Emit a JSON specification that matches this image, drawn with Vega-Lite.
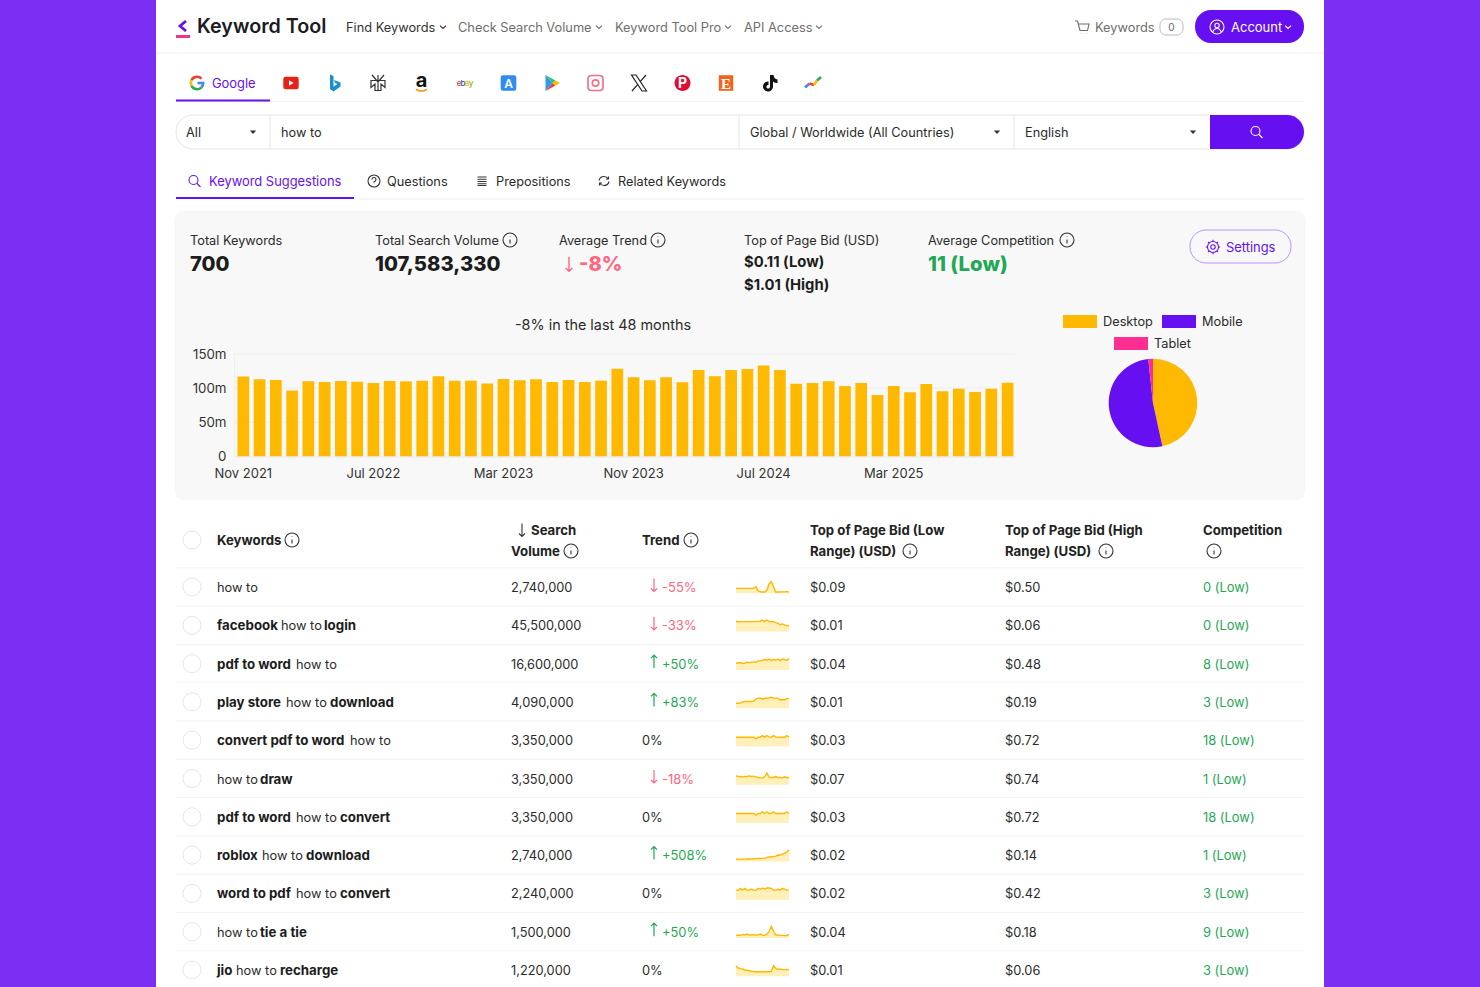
{
"$schema":"https://vega.github.io/schema/vega-lite/v6.json",
"description":"Keyword Tool results page: monthly search volume bars, device pie and keyword table.",
"width":1480,"height":987,"padding":0,"autosize":{"type":"none"},"background":"#7b2ff2",
"config":{"view":{"stroke":null},"text":{"font":"Inter","align":"left","baseline":"middle","dy":1},"axis":{"labelFont":"Inter"}},
"resolve":{"scale":{"x":"independent","y":"independent","color":"independent","shape":"independent"},"axis":{"x":"independent","y":"independent"}},
"datasets":{
"months":[{"month":"Nov 2021","volume":117},{"month":"Dec 2021","volume":113},{"month":"Jan 2022","volume":112},{"month":"Feb 2022","volume":96.5},{"month":"Mar 2022","volume":110},{"month":"Apr 2022","volume":109},{"month":"May 2022","volume":110.5},{"month":"Jun 2022","volume":109.5},{"month":"Jul 2022","volume":107.5},{"month":"Aug 2022","volume":110.5},{"month":"Sep 2022","volume":110},{"month":"Oct 2022","volume":111},{"month":"Nov 2022","volume":117.5},{"month":"Dec 2022","volume":111},{"month":"Jan 2023","volume":111},{"month":"Feb 2023","volume":107},{"month":"Mar 2023","volume":113.5},{"month":"Apr 2023","volume":111.5},{"month":"May 2023","volume":113},{"month":"Jun 2023","volume":109},{"month":"Jul 2023","volume":112},{"month":"Aug 2023","volume":109},{"month":"Sep 2023","volume":111},{"month":"Oct 2023","volume":128.5},{"month":"Nov 2023","volume":116},{"month":"Dec 2023","volume":111.5},{"month":"Jan 2024","volume":116},{"month":"Feb 2024","volume":108.5},{"month":"Mar 2024","volume":126.5},{"month":"Apr 2024","volume":117.5},{"month":"May 2024","volume":126.5},{"month":"Jun 2024","volume":128},{"month":"Jul 2024","volume":133},{"month":"Aug 2024","volume":126.5},{"month":"Sep 2024","volume":106.5},{"month":"Oct 2024","volume":107.5},{"month":"Nov 2024","volume":110},{"month":"Dec 2024","volume":103},{"month":"Jan 2025","volume":107.5},{"month":"Feb 2025","volume":90},{"month":"Mar 2025","volume":103},{"month":"Apr 2025","volume":94},{"month":"May 2025","volume":106},{"month":"Jun 2025","volume":95.5},{"month":"Jul 2025","volume":99},{"month":"Aug 2025","volume":94.5},{"month":"Sep 2025","volume":99},{"month":"Oct 2025","volume":108}],
"s1":[{"m":0,"v":37},{"m":2,"v":37},{"m":4,"v":37},{"m":6,"v":37},{"m":8,"v":37},{"m":10,"v":37},{"m":12,"v":37},{"m":14,"v":37},{"m":16,"v":38},{"m":18,"v":50},{"m":20,"v":18},{"m":22,"v":12},{"m":24,"v":10},{"m":26,"v":10},{"m":28,"v":25},{"m":30,"v":70},{"m":32,"v":87},{"m":34,"v":50},{"m":36,"v":10},{"m":38,"v":10},{"m":40,"v":10},{"m":42,"v":11},{"m":44,"v":11},{"m":46,"v":12},{"m":48,"v":11}],
"s2":[{"m":0,"v":78},{"m":2,"v":74},{"m":4,"v":75},{"m":6,"v":75},{"m":8,"v":75},{"m":10,"v":75},{"m":12,"v":75},{"m":14,"v":75},{"m":16,"v":75},{"m":18,"v":75},{"m":20,"v":75},{"m":22,"v":78},{"m":24,"v":86},{"m":26,"v":75},{"m":28,"v":87},{"m":30,"v":76},{"m":32,"v":75},{"m":34,"v":75},{"m":36,"v":68},{"m":38,"v":62},{"m":40,"v":52},{"m":42,"v":58},{"m":44,"v":50},{"m":46,"v":46},{"m":48,"v":43}],
"s3":[{"m":0,"v":52},{"m":2,"v":50},{"m":4,"v":55},{"m":6,"v":48},{"m":8,"v":50},{"m":10,"v":58},{"m":12,"v":55},{"m":14,"v":57},{"m":16,"v":60},{"m":18,"v":58},{"m":20,"v":68},{"m":22,"v":68},{"m":24,"v":72},{"m":26,"v":80},{"m":28,"v":72},{"m":30,"v":82},{"m":32,"v":70},{"m":34,"v":80},{"m":36,"v":72},{"m":38,"v":82},{"m":40,"v":70},{"m":42,"v":82},{"m":44,"v":78},{"m":46,"v":72},{"m":48,"v":85}],
"s4":[{"m":0,"v":37},{"m":2,"v":37},{"m":4,"v":38},{"m":6,"v":48},{"m":8,"v":50},{"m":10,"v":50},{"m":12,"v":50},{"m":14,"v":50},{"m":16,"v":53},{"m":18,"v":68},{"m":20,"v":75},{"m":22,"v":75},{"m":24,"v":68},{"m":26,"v":75},{"m":28,"v":75},{"m":30,"v":78},{"m":32,"v":82},{"m":34,"v":76},{"m":36,"v":76},{"m":38,"v":76},{"m":40,"v":62},{"m":42,"v":65},{"m":44,"v":64},{"m":46,"v":72},{"m":48,"v":72}],
"s5":[{"m":0,"v":70},{"m":2,"v":70},{"m":4,"v":70},{"m":6,"v":70},{"m":8,"v":70},{"m":10,"v":70},{"m":12,"v":70},{"m":14,"v":70},{"m":16,"v":70},{"m":18,"v":58},{"m":20,"v":70},{"m":22,"v":70},{"m":24,"v":82},{"m":26,"v":70},{"m":28,"v":82},{"m":30,"v":72},{"m":32,"v":70},{"m":34,"v":82},{"m":36,"v":72},{"m":38,"v":70},{"m":40,"v":70},{"m":42,"v":70},{"m":44,"v":70},{"m":46,"v":82},{"m":48,"v":70}],
"s6":[{"m":0,"v":68},{"m":2,"v":62},{"m":4,"v":62},{"m":6,"v":60},{"m":8,"v":62},{"m":10,"v":62},{"m":12,"v":68},{"m":14,"v":62},{"m":16,"v":65},{"m":18,"v":60},{"m":20,"v":55},{"m":22,"v":52},{"m":24,"v":52},{"m":26,"v":60},{"m":28,"v":88},{"m":30,"v":58},{"m":32,"v":55},{"m":34,"v":55},{"m":36,"v":62},{"m":38,"v":55},{"m":40,"v":55},{"m":42,"v":52},{"m":44,"v":60},{"m":46,"v":55},{"m":48,"v":55}],
"s7":[{"m":0,"v":72},{"m":2,"v":72},{"m":4,"v":72},{"m":6,"v":72},{"m":8,"v":72},{"m":10,"v":72},{"m":12,"v":72},{"m":14,"v":72},{"m":16,"v":72},{"m":18,"v":60},{"m":20,"v":72},{"m":22,"v":72},{"m":24,"v":85},{"m":26,"v":72},{"m":28,"v":85},{"m":30,"v":72},{"m":32,"v":72},{"m":34,"v":85},{"m":36,"v":72},{"m":38,"v":72},{"m":40,"v":72},{"m":42,"v":72},{"m":44,"v":72},{"m":46,"v":85},{"m":48,"v":72}],
"s8":[{"m":0,"v":18},{"m":2,"v":16},{"m":4,"v":15},{"m":6,"v":16},{"m":8,"v":17},{"m":10,"v":18},{"m":12,"v":18},{"m":14,"v":19},{"m":16,"v":20},{"m":18,"v":21},{"m":20,"v":22},{"m":22,"v":22},{"m":24,"v":23},{"m":26,"v":25},{"m":28,"v":30},{"m":30,"v":33},{"m":32,"v":36},{"m":34,"v":34},{"m":36,"v":40},{"m":38,"v":48},{"m":40,"v":46},{"m":42,"v":56},{"m":44,"v":60},{"m":46,"v":70},{"m":48,"v":85}],
"s9":[{"m":0,"v":72},{"m":2,"v":70},{"m":4,"v":85},{"m":6,"v":72},{"m":8,"v":85},{"m":10,"v":72},{"m":12,"v":72},{"m":14,"v":80},{"m":16,"v":72},{"m":18,"v":70},{"m":20,"v":85},{"m":22,"v":78},{"m":24,"v":88},{"m":26,"v":80},{"m":28,"v":88},{"m":30,"v":88},{"m":32,"v":85},{"m":34,"v":72},{"m":36,"v":72},{"m":38,"v":78},{"m":40,"v":72},{"m":42,"v":85},{"m":44,"v":80},{"m":46,"v":72},{"m":48,"v":72}],
"s10":[{"m":0,"v":18},{"m":2,"v":22},{"m":4,"v":20},{"m":6,"v":25},{"m":8,"v":24},{"m":10,"v":30},{"m":12,"v":22},{"m":14,"v":24},{"m":16,"v":24},{"m":18,"v":22},{"m":20,"v":24},{"m":22,"v":30},{"m":24,"v":20},{"m":26,"v":20},{"m":28,"v":30},{"m":30,"v":48},{"m":32,"v":88},{"m":34,"v":50},{"m":36,"v":22},{"m":38,"v":22},{"m":40,"v":20},{"m":42,"v":20},{"m":44,"v":18},{"m":46,"v":18},{"m":48,"v":28}],
"s11":[{"m":0,"v":78},{"m":2,"v":62},{"m":4,"v":58},{"m":6,"v":55},{"m":8,"v":46},{"m":10,"v":46},{"m":12,"v":42},{"m":14,"v":38},{"m":16,"v":36},{"m":18,"v":34},{"m":20,"v":34},{"m":22,"v":34},{"m":24,"v":34},{"m":26,"v":34},{"m":28,"v":34},{"m":30,"v":34},{"m":32,"v":36},{"m":34,"v":80},{"m":36,"v":60},{"m":38,"v":52},{"m":40,"v":55},{"m":42,"v":50},{"m":44,"v":50},{"m":46,"v":52},{"m":48,"v":50}]
},
"layer":[
{"encoding":{
"x":{"field":"c","type":"quantitative","axis":null,"scale":{"nice":false,"zero":false,"domain":[0,1,2,3,4,5,6,7,8,9,10,11,12,13,14,15,16,17,18,19,20,21,22,23,24,25,26,27,28,29,30,31,32,33,34,35,36,37,38,39,40,41,42,43,44,45,46,47,48,49,50,51,52,53,54,55,56,57,58,59,60,61,62,63,64,65,66,67,68,69,70,71,72,73,74,75,76,77,78,79,80,81,82,83,84,85,86,87],"range":[156,1324,176,1304,197,346,458,615,744,1095,1160,1183,1195,1231,212,186,270,281,739,750,1014,1025,1210,209,387,496,618,354,190,375,559,928,1190,1291,1226,569,579,603,1103,1202,1154,1063,1097,1162,1196,1114,1148,510,658,1067,217,511,642,810,1005,1203,531,522,292,571,691,910,1106,1214,192,443,599,728,819,1082,1171.5,1217,1288,253,997,1193,1257,195,374,482,604,1213,183,190,174,1306,175,1305]}},
"y":{"field":"r","type":"quantitative","axis":null,"scale":{"nice":false,"zero":false,"domain":[0,1,2,3,4,5,6,7,8,9,10,11,12,13,14,15,16,17,18,19,20,21,22,23,24,25,26,27,28,29,30,31,32,33,34,35,36,37,38,39,40,41],"range":[0,987,27,10,43,53,83,99.5,101.5,115,149,132,181,197,199,212,498,240,264,262,285,230,263,247,325,315,328,321,337,350,343,19,35,38,530,540,551,26,210,501,211,499.5]}}
},
"layer":[
{"data":{"values":[{"part":"page","c":0,"c2":1,"r":0,"r2":1}]},"mark":{"type":"rect","color":"#ffffff"},"encoding":{"x2":{"field":"c2"},"y2":{"field":"r2"}}},
{"data":{"values":[{"part":"card shadow","c":84,"c2":85,"r":38,"r2":39}]},"mark":{"type":"rect","color":"#000000","opacity":0.012,"cornerRadius":10},"encoding":{"x2":{"field":"c2"},"y2":{"field":"r2"}}},
{"data":{"values":[{"part":"card shadow","c":86,"c2":87,"r":40,"r2":41}]},"mark":{"type":"rect","color":"#000000","opacity":0.025,"cornerRadius":9},"encoding":{"x2":{"field":"c2"},"y2":{"field":"r2"}}},
{"data":{"values":[{"part":"card","c":2,"c2":3,"r":15,"r2":16}]},"mark":{"type":"rect","color":"#f8f8f8","cornerRadius":8},"encoding":{"x2":{"field":"c2"},"y2":{"field":"r2"}}},
{"data":{"values":[{"part":"search bar","c":2,"c2":3,"r":9,"r2":10}]},"mark":{"type":"rect","fill":"#ffffff","stroke":"#e4e4e4","cornerRadius":17},"encoding":{"x2":{"field":"c2"},"y2":{"field":"r2"}}},
{"data":{"values":[{"part":"search button","c":22,"c2":3,"r":9,"r2":10}]},"mark":{"type":"rect","color":"#6610f2","cornerRadiusTopRight":17,"cornerRadiusBottomRight":17},"encoding":{"x2":{"field":"c2"},"y2":{"field":"r2"}}},
{"data":{"values":[{"part":"account","c":12,"c2":3,"r":3,"r2":4}]},"mark":{"type":"rect","color":"#6610f2","cornerRadius":16},"encoding":{"x2":{"field":"c2"},"y2":{"field":"r2"}}},
{"data":{"values":[{"part":"settings","c":32,"c2":33,"r":21,"r2":22}]},"mark":{"type":"rect","fill":"#f8f8f8","stroke":"#b794ff","cornerRadius":16},"encoding":{"x2":{"field":"c2"},"y2":{"field":"r2"}}},
{"data":{"values":[{"part":"basket count","c":10,"c2":11,"r":31,"r2":32}]},"mark":{"type":"rect","fill":"#ffffff","stroke":"#bbbbbb","cornerRadius":6},"encoding":{"x2":{"field":"c2"},"y2":{"field":"r2"}}},
{"data":{"values":[{"part":"header line","c":0,"c2":1,"r":5},{"part":"source line","c":2,"c2":3,"r":8},{"part":"tab line","c":2,"c2":3,"r":14}]},"mark":{"type":"rule","color":"#f1f1f1"},"encoding":{"x2":{"field":"c2"}}},
{"data":{"values":[{"part":"divider","c":16,"r":9,"r2":10},{"part":"divider","c":18,"r":9,"r2":10},{"part":"divider","c":20,"r":9,"r2":10}]},"mark":{"type":"rule","color":"#e4e4e4"},"encoding":{"y2":{"field":"r2"}}},
{"data":{"values":[{"part":"google tab","c":2,"c2":16,"r":7,"r2":8},{"part":"suggestions tab","c":2,"c2":27,"r":13,"r2":14}]},"mark":{"type":"rect","color":"#6610f2"},"encoding":{"x2":{"field":"c2"},"y2":{"field":"r2"}}},
{"data":{"values":[{"part":"logo bar","c":2,"c2":83,"r":32,"r2":33}]},"mark":{"type":"rect","color":"#f0308a"},"encoding":{"x2":{"field":"c2"},"y2":{"field":"r2"}}},
{"data":{"values":[{"device":"Desktop","c":41,"c2":42,"r":25,"r2":26},{"device":"Mobile","c":43,"c2":44,"r":25,"r2":26},{"device":"Tablet","c":45,"c2":46,"r":28,"r2":29}]},"mark":{"type":"rect"},"encoding":{"x2":{"field":"c2"},"y2":{"field":"r2"},"color":{"field":"device","type":"nominal","legend":null,"scale":{"domain":["Desktop","Mobile","Tablet"],"range":["#ffb900","#6610f2","#ff2f92"]}}}},
{"data":{"values":[{"part":"select all","c":64,"r":35}]},"mark":{"type":"point","shape":"circle","size":324,"stroke":"#e6e6e6","strokeWidth":1,"opacity":1}},
{"encoding":{"text":{"field":"t"}},"layer":[
{"data":{"values":[{"t":"Keyword Tool","c":4,"r":37}]},"mark":{"type":"text","fontSize":19.7,"fontWeight":600,"color":"#1c1c24"}},
{"data":{"values":[{"t":"Find Keywords","c":5,"r":2}]},"mark":{"type":"text","fontSize":12.8,"color":"#333333"}},
{"data":{"values":[{"t":"Check Search Volume","c":6,"r":2},{"t":"Keyword Tool Pro","c":7,"r":2},{"t":"API Access","c":8,"r":2},{"t":"Keywords","c":9,"r":2}]},"mark":{"type":"text","fontSize":12.8,"color":"#6e6e6e"}},
{"data":{"values":[{"t":"0","c":70,"r":2}]},"mark":{"type":"text","fontSize":10,"color":"#666666","align":"center"}},
{"data":{"values":[{"t":"Account","c":13,"r":2}]},"mark":{"type":"text","fontSize":13,"color":"#ffffff"}},
{"data":{"values":[{"t":"Google","c":14,"r":6},{"t":"Keyword Suggestions","c":23,"r":12},{"t":"Settings","c":34,"r":23}]},"mark":{"type":"text","fontSize":12.9,"color":"#6610f2"}},
{"data":{"values":[{"t":"All","c":15,"r":11},{"t":"how to","c":17,"r":11},{"t":"Global / Worldwide (All Countries)","c":19,"r":11},{"t":"English","c":21,"r":11},{"t":"Questions","c":24,"r":12},{"t":"Prepositions","c":25,"r":12},{"t":"Related Keywords","c":26,"r":12},{"t":"Total Keywords","c":28,"r":17},{"t":"Total Search Volume","c":29,"r":17},{"t":"Average Trend","c":30,"r":17},{"t":"Top of Page Bid (USD)","c":8,"r":17},{"t":"Average Competition","c":31,"r":17},{"t":"Desktop","c":38,"r":27},{"t":"Mobile","c":39,"r":27},{"t":"Tablet","c":40,"r":30}]},"mark":{"type":"text","fontSize":12.75,"color":"#2b2b2b"}},
{"data":{"values":[{"t":"700","c":28,"r":18},{"t":"107,583,330","c":29,"r":18}]},"mark":{"type":"text","fontSize":20.2,"fontWeight":800,"color":"#1c1c1c"}},
{"data":{"values":[{"t":"-8%","c":36,"r":18}]},"mark":{"type":"text","fontSize":20,"fontWeight":800,"color":"#ff6680"}},
{"data":{"values":[{"t":"11 (Low)","c":31,"r":18}]},"mark":{"type":"text","fontSize":20.3,"fontWeight":800,"color":"#1fa855"}},
{"data":{"values":[{"t":"$0.11 (Low)","c":8,"r":19},{"t":"$1.01 (High)","c":8,"r":20}]},"mark":{"type":"text","fontSize":14.8,"fontWeight":700,"color":"#1c1c1c"}},
{"data":{"values":[{"t":"-8% in the last 48 months","c":37,"r":24}]},"mark":{"type":"text","fontSize":14.4,"color":"#2b2b2b","align":"center"}},
{"data":{"values":[{"t":"Keywords","c":50,"r":35},{"t":"Search","c":56,"r":34},{"t":"Volume","c":51,"r":36},{"t":"Trend","c":52,"r":35},{"t":"Top of Page Bid (Low","c":53,"r":34},{"t":"Range) (USD)","c":53,"r":36},{"t":"Top of Page Bid (High","c":54,"r":34},{"t":"Range) (USD)","c":54,"r":36},{"t":"Competition","c":55,"r":34}]},"mark":{"type":"text","fontSize":13.2,"fontWeight":700,"color":"#222222"}}
]},
{"encoding":{"shape":{"field":"glyph","type":"nominal","legend":null,"scale":{"domain":["info","chevron","cart","user","search","question","list","refresh","gear","down","caret","logo"],"range":["M-.7,0A.7,.7 0 1 1 .7,0A.7,.7 0 1 1 -.7,0ZM0,-.05V.35M0,-.36V-.3","M-.3,-.13L0,.15L.3,-.13","M-.7,-.6H-.45L-.2,.35H.55L.7,-.3H-.35M-.1,.6V.62M.45,.6V.62","M-.7,0A.7,.7 0 1 1 .7,0A.7,.7 0 1 1 -.7,0ZM-.22,-.15A.22,.22 0 1 1 .22,-.15A.22,.22 0 1 1 -.22,-.15ZM-.42,.5Q-.3,.15 0,.15Q.3,.15 .42,.5","M-.6,-.1A.45,.45 0 1 1 .3,-.1A.45,.45 0 1 1 -.6,-.1ZM.2,.25L.55,.6","M-.6,0A.6,.6 0 1 1 .6,0A.6,.6 0 1 1 -.6,0ZM-.2,-.15Q-.2,-.35 0,-.35Q.2,-.35 .2,-.15Q.2,0 0,.08V.15M0,.27V.3","M-.45,-.4H.45M-.45,-.18H.45M-.45,.05H.45M-.45,.27H.45M-.45,.45H.45","M-.5,-.05Q-.4,-.45 0,-.45Q.3,-.45 .45,-.2M.5,.05Q.4,.45 0,.45Q-.3,.45 -.45,.2M.45,-.45V-.2H.2M-.45,.45V.2H-.2","M-.22,0A.22,.22 0 1 1 .22,0A.22,.22 0 1 1 -.22,0ZM-.55,0A.55,.55 0 1 1 .55,0A.55,.55 0 1 1 -.55,0ZM0,-.72V-.55M0,.55V.72M-.72,0H-.55M.55,0H.72M-.5,-.5L-.38,-.38M.5,.5L.38,.38M-.5,.5L-.38,.38M.5,-.5L.38,-.38","M0,-.65V.65M-.3,.35L0,.65L.3,.35","M-.32,-.15H.32L0,.2Z","M.3,-.5L-.3,0L.3,.5"]}}},"layer":[
{"data":{"values":[{"glyph":"info","c":47,"r":17},{"glyph":"info","c":48,"r":17},{"glyph":"info","c":49,"r":17},{"glyph":"info","c":58,"r":35},{"glyph":"info","c":59,"r":36},{"glyph":"info","c":60,"r":35},{"glyph":"info","c":61,"r":36},{"glyph":"info","c":62,"r":36},{"glyph":"info","c":63,"r":36},{"glyph":"chevron","c":65,"r":2},{"glyph":"question","c":78,"r":12},{"glyph":"list","c":79,"r":12},{"glyph":"refresh","c":80,"r":12},{"glyph":"down","c":57,"r":34}]},"mark":{"type":"point","filled":false,"size":400,"color":"#333333","strokeWidth":1.1,"opacity":1}},
{"data":{"values":[{"glyph":"chevron","c":66,"r":2},{"glyph":"chevron","c":67,"r":2},{"glyph":"chevron","c":68,"r":2},{"glyph":"cart","c":69,"r":2}]},"mark":{"type":"point","filled":false,"size":400,"color":"#6e6e6e","strokeWidth":1.1,"opacity":1}},
{"data":{"values":[{"glyph":"user","c":71,"r":2},{"glyph":"chevron","c":72,"r":2},{"glyph":"search","c":76,"r":11}]},"mark":{"type":"point","filled":false,"size":400,"color":"#ffffff","strokeWidth":1.1,"opacity":1}},
{"data":{"values":[{"glyph":"search","c":77,"r":12},{"glyph":"gear","c":81,"r":23}]},"mark":{"type":"point","filled":false,"size":400,"color":"#6610f2","strokeWidth":1.1,"opacity":1}},
{"data":{"values":[{"glyph":"logo","c":82,"r":37}]},"mark":{"type":"point","filled":false,"size":400,"color":"#6610f2","strokeWidth":2.8,"opacity":1}},
{"data":{"values":[{"glyph":"down","c":35,"r":18}]},"mark":{"type":"point","filled":false,"size":500,"color":"#ff6680","strokeWidth":1.4,"opacity":1}},
{"data":{"values":[{"glyph":"caret","c":73,"r":11},{"glyph":"caret","c":74,"r":11},{"glyph":"caret","c":75,"r":11}]},"mark":{"type":"point","filled":true,"size":400,"color":"#333333","opacity":1}}
]}
]},
{"encoding":{
"x":{"field":"n","type":"quantitative","axis":null,"scale":{"nice":false,"zero":false,"domain":[0,1,13],"range":[197,291,813]}},
"y":{"datum":0,"type":"quantitative","axis":null,"scale":{"nice":false,"domain":[-1,1],"range":[93,73]}}
},
"layer":[
{"encoding":{
"shape":{"field":"part","type":"nominal","legend":null,"scale":{"domain":["g red","g yellow","g green","g blue","youtube","youtube play","bing","spider","smile","store","play blue","play green","play red","play yellow","insta","x","pin","etsy","tiktok","up blue","up red","up yellow","up green"],"range":["M.45,-.43A.62,.62 0 0 0 -.55,-.28","M-.55,-.28A.62,.62 0 0 0 -.55,.28","M-.55,.28A.62,.62 0 0 0 .45,.43","M.45,.43A.62,.62 0 0 0 .62,0H.05","M-.55,-.62H.55Q.77,-.62 .77,-.4V.4Q.77,.62 .55,.62H-.55Q-.77,.62 -.77,.4V-.4Q-.77,-.62 -.55,-.62Z","M-.2,-.27L.27,0L-.2,.27Z","M-.45,-.85L-.1,-.7V.35L.3,.1L.05,0L-.05,-.3L.6,-.05V.35L-.1,.85L-.45,.6Z","M-.6,-.8L0,-.1L.6,-.8M0,-.8V.8M-.7,-.25H.7V.45L.3,.1V.75H-.3V.1L-.7,.45Z","M-.55,.62Q0,1 .55,.62","M-.55,-.78H.55Q.78,-.78 .78,-.55V.55Q.78,.78 .55,.78H-.55Q-.78,.78 -.78,.55V-.55Q-.78,-.78 -.55,-.78Z","M-.65,-.8L.05,0L-.65,.8Z","M-.65,-.8L.35,-.25L.05,0Z","M-.65,.8L.35,.25L.05,0Z","M.35,-.25L.8,0L.35,.25L.05,0Z","M-.4,-.75H.4Q.75,-.75 .75,-.4V.4Q.75,.75 .4,.75H-.4Q-.75,.75 -.75,.4V-.4Q-.75,-.75 -.4,-.75ZM-.32,0A.32,.32 0 1 1 .32,0A.32,.32 0 1 1 -.32,0ZM.42,-.45V-.42","M-.75,-.8H-.3L.75,.8H.3ZM.7,-.8L.1,-.12M-.1,.12L-.7,.8","M-.8,0A.8,.8 0 1 1 .8,0A.8,.8 0 1 1 -.8,0Z","M-.72,-.78H.72V.78H-.72Z","M.05,-.8H.4Q.45,-.4 .8,-.35V0Q.5,0 .35,-.15V.35A.5,.5 0 1 1 -.1,-.15V.2A.18,.18 0 1 0 .05,.35Z","M-.8,.45L-.35,.05","M-.35,.05L.1,.2","M.1,.2L.4,-.25","M.4,-.25L.8,-.6"]}},
"color":{"field":"part","type":"nominal","legend":null,"scale":{"domain":["g red","g yellow","g green","g blue","youtube","youtube play","bing","spider","smile","store","play blue","play green","play red","play yellow","insta","x","pin","etsy","tiktok","up blue","up red","up yellow","up green"],"range":["#ea4335","#fbbc05","#34a853","#4285f4","#e62117","#ffffff","#1c8fc4","#333333","#f79c21","#2f8cf0","#2d9cf0","#34c06f","#ea4335","#fbbc05","#f2708a","#222222","#dd1032","#f1641e","#111111","#4285f4","#ea4335","#fbbc05","#34a853"]}}
},"layer":[
{"data":{"values":[{"icon":"YouTube","part":"youtube","n":1},{"icon":"YouTube","part":"youtube play","n":1},{"icon":"Bing","part":"bing","n":2},{"icon":"App Store","part":"store","n":6},{"icon":"Play","part":"play blue","n":7},{"icon":"Play","part":"play green","n":7},{"icon":"Play","part":"play red","n":7},{"icon":"Play","part":"play yellow","n":7},{"icon":"Pinterest","part":"pin","n":10},{"icon":"Etsy","part":"etsy","n":11},{"icon":"TikTok","part":"tiktok","n":12}]},"mark":{"type":"point","filled":true,"size":400,"opacity":1}},
{"data":{"values":[{"icon":"Google","part":"g red","n":0},{"icon":"Google","part":"g yellow","n":0},{"icon":"Google","part":"g green","n":0},{"icon":"Google","part":"g blue","n":0}]},"mark":{"type":"point","filled":false,"size":400,"strokeWidth":2.6,"opacity":1}},
{"data":{"values":[{"icon":"Perplexity","part":"spider","n":3},{"icon":"X","part":"x","n":9}]},"mark":{"type":"point","filled":false,"size":400,"strokeWidth":1.2,"opacity":1}},
{"data":{"values":[{"icon":"Amazon","part":"smile","n":4},{"icon":"Instagram","part":"insta","n":8}]},"mark":{"type":"point","filled":false,"size":400,"strokeWidth":1.7,"opacity":1}},
{"data":{"values":[{"icon":"Trends","part":"up blue","n":13},{"icon":"Trends","part":"up red","n":13},{"icon":"Trends","part":"up yellow","n":13},{"icon":"Trends","part":"up green","n":13}]},"mark":{"type":"point","filled":false,"size":400,"strokeWidth":2.6,"opacity":1}}
]},
{"encoding":{"text":{"field":"t"}},"layer":[
{"data":{"values":[{"t":"a","n":4}]},"mark":{"type":"text","fontSize":20,"fontWeight":700,"color":"#111111","align":"center","dy":-2}},
{"data":{"values":[{"t":"A","n":6}]},"mark":{"type":"text","fontSize":12,"fontWeight":600,"color":"#ffffff","align":"center"}},
{"data":{"values":[{"t":"P","n":10}]},"mark":{"type":"text","fontSize":14,"fontWeight":700,"color":"#ffffff","align":"center"}},
{"data":{"values":[{"t":"E","n":11}]},"mark":{"type":"text","fontSize":15,"font":"Liberation Serif","fontWeight":700,"color":"#ffffff","align":"center"}}
]}
]},
{"data":{"values":[{"letter":"e"},{"letter":"b"},{"letter":"a"},{"letter":"y"}]},"mark":{"type":"text","fontSize":8,"fontWeight":500,"align":"center"},
"encoding":{
"x":{"field":"letter","type":"nominal","axis":null,"scale":{"type":"point","padding":0,"domain":["e","b","a","y"],"range":[459,471]}},
"y":{"datum":0,"type":"quantitative","axis":null,"scale":{"domain":[-1,1],"range":[93,73]}},
"text":{"field":"letter"},
"color":{"field":"letter","type":"nominal","legend":null,"scale":{"domain":["e","b","a","y"],"range":["#e53238","#0064d2","#f5af02","#86b817"]}}
}},
{"data":{"values":[{"level":50,"from":0,"to":1},{"level":100,"from":0,"to":1},{"level":150,"from":0,"to":1}]},"mark":{"type":"rule","color":"#eeeeee"},
"encoding":{
"x":{"field":"from","type":"quantitative","axis":null,"scale":{"domain":[0,1],"range":[234,1015]}},
"x2":{"field":"to"},
"y":{"field":"level","type":"quantitative","axis":null,"scale":{"domain":[0,150],"range":[456.5,354]}}
}},
{"data":{"name":"months"},"mark":{"type":"bar","color":"#ffb900"},
"encoding":{
"x":{"field":"month","type":"nominal","sort":null,"title":null,"scale":{"type":"band","range":[235.2,1015.7],"paddingInner":0.28,"paddingOuter":0.14},
"axis":{"values":["Nov 2021","Jul 2022","Mar 2023","Nov 2023","Jul 2024","Mar 2025"],"orient":"bottom","offset":-530.5,"labelAngle":0,"ticks":false,"grid":false,"domainColor":"#e6e6e6","labelPadding":11,"labelFontSize":13,"labelColor":"#333333","zindex":1}},
"y":{"field":"volume","type":"quantitative","title":null,"scale":{"domain":[0,150],"range":[456.5,354]},
"axis":{"values":[0,50,100,150],"labelExpr":"datum.value == 0 ? '0' : datum.value + 'm'","orient":"left","offset":-234,"ticks":false,"grid":false,"domainColor":"#eeeeee","labelPadding":8,"labelFontSize":13.3,"labelColor":"#333333","zindex":1}}
}},
{"data":{"values":[{"device":"Desktop","share":46.6,"ord":1},{"device":"Mobile","share":51.7,"ord":2},{"device":"Tablet","share":1.7,"ord":3}]},"mark":{"type":"arc","radius":44.3},
"encoding":{
"x":{"datum":0.5,"type":"quantitative","axis":null,"scale":{"domain":[0,1],"range":[1109,1197]}},
"y":{"datum":0.5,"type":"quantitative","axis":null,"scale":{"domain":[0,1],"range":[447,359]}},
"theta":{"field":"share","type":"quantitative"},
"order":{"field":"ord"},
"color":{"field":"device","type":"nominal","legend":null,"scale":{"domain":["Desktop","Mobile","Tablet"],"range":["#ffb900","#6610f2","#ff2f92"]}}
}},
{"encoding":{
"x":{"field":"col","type":"quantitative","axis":null,"scale":{"nice":false,"zero":false,"domain":[0,1,2,3,4,5,6,7,8,9,10,11,12,13,14,15,16,17,18,19,20,21,22],"range":[192,217,511,642,654,662,810,1005,1203,176,1304,236,260,262,280,281,286,296,306,324,330,340,350]}},
"y":{"field":"row","type":"quantitative","axis":null,"scale":{"nice":false,"zero":false,"domain":[1,11],"range":[587,970]}}
},
"layer":[
{"data":{"values":[{"row":0.5,"col":9,"col2":10},{"row":1.5,"col":9,"col2":10},{"row":2.5,"col":9,"col2":10},{"row":3.5,"col":9,"col2":10},{"row":4.5,"col":9,"col2":10},{"row":5.5,"col":9,"col2":10},{"row":6.5,"col":9,"col2":10},{"row":7.5,"col":9,"col2":10},{"row":8.5,"col":9,"col2":10},{"row":9.5,"col":9,"col2":10},{"row":10.5,"col":9,"col2":10}]},"mark":{"type":"rule","color":"#f3f3f3"},"encoding":{"x2":{"field":"col2"}}},
{"data":{"values":[{"row":1,"col":0},{"row":2,"col":0},{"row":3,"col":0},{"row":4,"col":0},{"row":5,"col":0},{"row":6,"col":0},{"row":7,"col":0},{"row":8,"col":0},{"row":9,"col":0},{"row":10,"col":0},{"row":11,"col":0}]},"mark":{"type":"point","shape":"circle","size":324,"stroke":"#e6e6e6","strokeWidth":1,"opacity":1}},
{"data":{"values":[{"row":1,"col":4},{"row":2,"col":4},{"row":6,"col":4}]},"mark":{"type":"point","filled":false,"shape":"M0,-.85V.45M-.3,.15L0,.45L.3,.15","size":400,"color":"#ff6680","strokeWidth":1.2,"opacity":1}},
{"data":{"values":[{"row":3,"col":4},{"row":4,"col":4},{"row":8,"col":4},{"row":10,"col":4}]},"mark":{"type":"point","filled":false,"shape":"M0,.45V-.85M-.3,-.55L0,-.85L.3,-.55","size":400,"color":"#1fa855","strokeWidth":1.2,"opacity":1}},
{"encoding":{"text":{"field":"text"}},"layer":[
{"data":{"values":[{"row":1,"col":1,"text":"how to"},{"row":2,"col":15,"text":"how to"},{"row":3,"col":17,"text":"how to"},{"row":4,"col":16,"text":"how to"},{"row":5,"col":22,"text":"how to"},{"row":6,"col":1,"text":"how to"},{"row":7,"col":17,"text":"how to"},{"row":8,"col":13,"text":"how to"},{"row":9,"col":17,"text":"how to"},{"row":10,"col":1,"text":"how to"},{"row":11,"col":11,"text":"how to"},
{"row":1,"col":2,"text":"2,740,000"},{"row":2,"col":2,"text":"45,500,000"},{"row":3,"col":2,"text":"16,600,000"},{"row":4,"col":2,"text":"4,090,000"},{"row":5,"col":2,"text":"3,350,000"},{"row":6,"col":2,"text":"3,350,000"},{"row":7,"col":2,"text":"3,350,000"},{"row":8,"col":2,"text":"2,740,000"},{"row":9,"col":2,"text":"2,240,000"},{"row":10,"col":2,"text":"1,500,000"},{"row":11,"col":2,"text":"1,220,000"},
{"row":5,"col":3,"text":"0%"},{"row":7,"col":3,"text":"0%"},{"row":9,"col":3,"text":"0%"},{"row":11,"col":3,"text":"0%"},
{"row":1,"col":6,"text":"$0.09"},{"row":2,"col":6,"text":"$0.01"},{"row":3,"col":6,"text":"$0.04"},{"row":4,"col":6,"text":"$0.01"},{"row":5,"col":6,"text":"$0.03"},{"row":6,"col":6,"text":"$0.07"},{"row":7,"col":6,"text":"$0.03"},{"row":8,"col":6,"text":"$0.02"},{"row":9,"col":6,"text":"$0.02"},{"row":10,"col":6,"text":"$0.04"},{"row":11,"col":6,"text":"$0.01"},
{"row":1,"col":7,"text":"$0.50"},{"row":2,"col":7,"text":"$0.06"},{"row":3,"col":7,"text":"$0.48"},{"row":4,"col":7,"text":"$0.19"},{"row":5,"col":7,"text":"$0.72"},{"row":6,"col":7,"text":"$0.74"},{"row":7,"col":7,"text":"$0.72"},{"row":8,"col":7,"text":"$0.14"},{"row":9,"col":7,"text":"$0.42"},{"row":10,"col":7,"text":"$0.18"},{"row":11,"col":7,"text":"$0.06"}]},"mark":{"type":"text","fontSize":12.8,"color":"#2b2b2b"}},
{"data":{"values":[{"row":2,"col":1,"text":"facebook"},{"row":2,"col":19,"text":"login"},{"row":3,"col":1,"text":"pdf to word"},{"row":4,"col":1,"text":"play store"},{"row":4,"col":20,"text":"download"},{"row":5,"col":1,"text":"convert pdf to word"},{"row":6,"col":12,"text":"draw"},{"row":7,"col":1,"text":"pdf to word"},{"row":7,"col":21,"text":"convert"},{"row":8,"col":1,"text":"roblox"},{"row":8,"col":18,"text":"download"},{"row":9,"col":1,"text":"word to pdf"},{"row":9,"col":21,"text":"convert"},{"row":10,"col":12,"text":"tie a tie"},{"row":11,"col":1,"text":"jio"},{"row":11,"col":14,"text":"recharge"}]},"mark":{"type":"text","fontSize":13.3,"fontWeight":700,"color":"#1c1c1c"}},
{"data":{"values":[{"row":1,"col":5,"text":"-55%"},{"row":2,"col":5,"text":"-33%"},{"row":6,"col":5,"text":"-18%"}]},"mark":{"type":"text","fontSize":13,"color":"#ff6680"}},
{"data":{"values":[{"row":3,"col":5,"text":"+50%"},{"row":4,"col":5,"text":"+83%"},{"row":8,"col":5,"text":"+508%"},{"row":10,"col":5,"text":"+50%"},
{"row":1,"col":8,"text":"0 (Low)"},{"row":2,"col":8,"text":"0 (Low)"},{"row":3,"col":8,"text":"8 (Low)"},{"row":4,"col":8,"text":"3 (Low)"},{"row":5,"col":8,"text":"18 (Low)"},{"row":6,"col":8,"text":"1 (Low)"},{"row":7,"col":8,"text":"18 (Low)"},{"row":8,"col":8,"text":"1 (Low)"},{"row":9,"col":8,"text":"3 (Low)"},{"row":10,"col":8,"text":"9 (Low)"},{"row":11,"col":8,"text":"3 (Low)"}]},"mark":{"type":"text","fontSize":12.9,"color":"#1fa855"}}
]}
]},
{"data":{"name":"s1"},"encoding":{"x":{"field":"m","type":"quantitative","axis":null,"scale":{"domain":[0,48],"range":[736,789]}},"y":{"field":"v","type":"quantitative","axis":null,"scale":{"domain":[0,100],"range":[593.3,580]}}},"layer":[{"mark":{"type":"area","color":"#ffefb8"}},{"mark":{"type":"line","color":"#ffb900","strokeWidth":1.4}}]},
{"data":{"name":"s2"},"encoding":{"x":{"field":"m","type":"quantitative","axis":null,"scale":{"domain":[0,48],"range":[736,789]}},"y":{"field":"v","type":"quantitative","axis":null,"scale":{"domain":[0,100],"range":[631.6,618.3]}}},"layer":[{"mark":{"type":"area","color":"#ffefb8"}},{"mark":{"type":"line","color":"#ffb900","strokeWidth":1.4}}]},
{"data":{"name":"s3"},"encoding":{"x":{"field":"m","type":"quantitative","axis":null,"scale":{"domain":[0,48],"range":[736,789]}},"y":{"field":"v","type":"quantitative","axis":null,"scale":{"domain":[0,100],"range":[669.9,656.6]}}},"layer":[{"mark":{"type":"area","color":"#ffefb8"}},{"mark":{"type":"line","color":"#ffb900","strokeWidth":1.4}}]},
{"data":{"name":"s4"},"encoding":{"x":{"field":"m","type":"quantitative","axis":null,"scale":{"domain":[0,48],"range":[736,789]}},"y":{"field":"v","type":"quantitative","axis":null,"scale":{"domain":[0,100],"range":[708.2,694.9]}}},"layer":[{"mark":{"type":"area","color":"#ffefb8"}},{"mark":{"type":"line","color":"#ffb900","strokeWidth":1.4}}]},
{"data":{"name":"s5"},"encoding":{"x":{"field":"m","type":"quantitative","axis":null,"scale":{"domain":[0,48],"range":[736,789]}},"y":{"field":"v","type":"quantitative","axis":null,"scale":{"domain":[0,100],"range":[746.5,733.2]}}},"layer":[{"mark":{"type":"area","color":"#ffefb8"}},{"mark":{"type":"line","color":"#ffb900","strokeWidth":1.4}}]},
{"data":{"name":"s6"},"encoding":{"x":{"field":"m","type":"quantitative","axis":null,"scale":{"domain":[0,48],"range":[736,789]}},"y":{"field":"v","type":"quantitative","axis":null,"scale":{"domain":[0,100],"range":[784.8,771.5]}}},"layer":[{"mark":{"type":"area","color":"#ffefb8"}},{"mark":{"type":"line","color":"#ffb900","strokeWidth":1.4}}]},
{"data":{"name":"s7"},"encoding":{"x":{"field":"m","type":"quantitative","axis":null,"scale":{"domain":[0,48],"range":[736,789]}},"y":{"field":"v","type":"quantitative","axis":null,"scale":{"domain":[0,100],"range":[823.1,809.8]}}},"layer":[{"mark":{"type":"area","color":"#ffefb8"}},{"mark":{"type":"line","color":"#ffb900","strokeWidth":1.4}}]},
{"data":{"name":"s8"},"encoding":{"x":{"field":"m","type":"quantitative","axis":null,"scale":{"domain":[0,48],"range":[736,789]}},"y":{"field":"v","type":"quantitative","axis":null,"scale":{"domain":[0,100],"range":[861.4,848.1]}}},"layer":[{"mark":{"type":"area","color":"#ffefb8"}},{"mark":{"type":"line","color":"#ffb900","strokeWidth":1.4}}]},
{"data":{"name":"s9"},"encoding":{"x":{"field":"m","type":"quantitative","axis":null,"scale":{"domain":[0,48],"range":[736,789]}},"y":{"field":"v","type":"quantitative","axis":null,"scale":{"domain":[0,100],"range":[899.7,886.4]}}},"layer":[{"mark":{"type":"area","color":"#ffefb8"}},{"mark":{"type":"line","color":"#ffb900","strokeWidth":1.4}}]},
{"data":{"name":"s10"},"encoding":{"x":{"field":"m","type":"quantitative","axis":null,"scale":{"domain":[0,48],"range":[736,789]}},"y":{"field":"v","type":"quantitative","axis":null,"scale":{"domain":[0,100],"range":[938,924.7]}}},"layer":[{"mark":{"type":"area","color":"#ffefb8"}},{"mark":{"type":"line","color":"#ffb900","strokeWidth":1.4}}]},
{"data":{"name":"s11"},"encoding":{"x":{"field":"m","type":"quantitative","axis":null,"scale":{"domain":[0,48],"range":[736,789]}},"y":{"field":"v","type":"quantitative","axis":null,"scale":{"domain":[0,100],"range":[976.3,963]}}},"layer":[{"mark":{"type":"area","color":"#ffefb8"}},{"mark":{"type":"line","color":"#ffb900","strokeWidth":1.4}}]}
]
}
